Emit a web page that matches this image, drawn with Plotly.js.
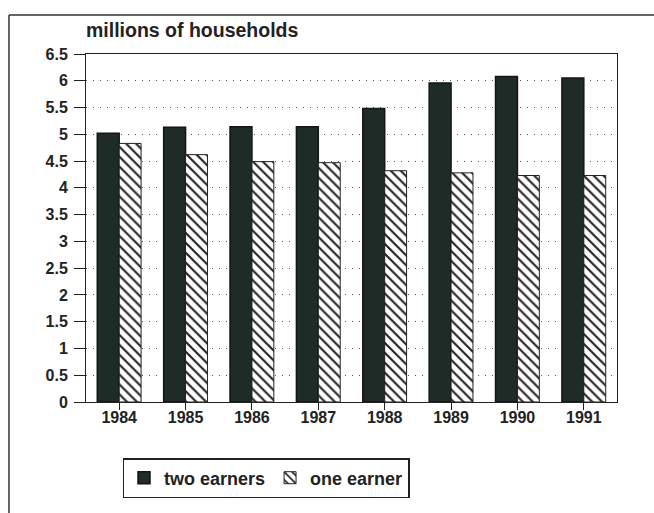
<!DOCTYPE html>
<html>
<head>
<meta charset="utf-8">
<script src="https://cdn.plot.ly/plotly-3.0.1.min.js"></script>
<style>html,body{margin:0;padding:0;background:#fff;}#chart{width:654px;height:513px;}</style>
</head>
<body>
<div id="chart"></div>
<script>
const years = ['1984','1985','1986','1987','1988','1989','1990','1991'];
const twoEarners = [5.02, 5.13, 5.14, 5.14, 5.48, 5.96, 6.08, 6.05];
const oneEarner = [4.83, 4.62, 4.49, 4.47, 4.32, 4.28, 4.23, 4.23];
const yTicks = [0, 0.5, 1, 1.5, 2, 2.5, 3, 3.5, 4, 4.5, 5, 5.5, 6, 6.5];
const yTickText = ['0','0.5','1','1.5','2','2.5','3','3.5','4','4.5','5','5.5','6','6.5'];
const seriesNames = ['two earners', 'one earner'];
const titleText = 'millions of households';

const W = 654, H = 513;
const L = 86, R = 37, T = 54, B = 111;
const pw = W - L - R, ph = H - T - B;
const px = x => (x - L) / pw;
const py = y => (H - B - y) / ph;

const fontFam = 'Liberation Sans, Arial, sans-serif';

const traces = [
  {
    type: 'bar', x: years, y: twoEarners, name: seriesNames[0],
    marker: { color: '#1e2b26', line: { color: '#151515', width: 1.5 } }
  },
  {
    type: 'bar', x: years, y: oneEarner, name: seriesNames[1],
    marker: {
      color: '#ffffff',
      line: { color: '#222', width: 1 },
      pattern: { shape: '\\', fgcolor: '#222', bgcolor: '#ffffff', size: 7, solidity: 0.3 }
    }
  }
];

const layout = {
  width: W, height: H,
  margin: { l: L, r: R, t: T, b: B, pad: 0 },
  paper_bgcolor: '#fff', plot_bgcolor: '#fff',
  barmode: 'group', bargap: 0.34, bargroupgap: 0,
  font: { family: fontFam, color: '#222' },
  title: {
    text: '<b>' + titleText + '</b>',
    font: { family: fontFam, size: 19.5, color: '#222' },
    xref: 'paper', x: 0, xanchor: 'left',
    yref: 'container', y: 1 - 30 / H, yanchor: 'middle'
  },
  xaxis: {
    type: 'category', range: [-0.5, 7.5],
    showline: true, linecolor: '#222', linewidth: 1, mirror: true,
    ticks: 'outside', ticklen: 7, tickcolor: '#222',
    ticklabelstandoff: -6,
    tickfont: { family: fontFam, size: 16, color: '#222', weight: 'bold' },
    showgrid: false, zeroline: false
  },
  yaxis: {
    range: [0, 6.5], tickvals: yTicks, ticktext: yTickText,
    showline: true, linecolor: '#222', linewidth: 1, mirror: true,
    ticks: 'outside', ticklen: 11, tickcolor: '#222',
    ticklabelstandoff: 3,
    tickfont: { family: fontFam, size: 16, color: '#222', weight: 'bold' },
    showgrid: true, gridcolor: '#555', griddash: '1px,6px', gridwidth: 1,
    zeroline: false
  },
  showlegend: true,
  legend: {
    orientation: 'h',
    x: px(266), xanchor: 'center',
    y: py(458), yanchor: 'top',
    bordercolor: '#222', borderwidth: 1.5,
    bgcolor: '#fff',
    font: { family: fontFam, size: 18, color: '#222', weight: 'bold' },
    itemwidth: 30, tracegroupgap: 0
  },
  shapes: [
    { type: 'line', xref: 'paper', yref: 'paper', x0: px(9), x1: px(9), y0: py(15), y1: py(513), line: { color: '#333', width: 1.5 } },
    { type: 'line', xref: 'paper', yref: 'paper', x0: px(9), x1: px(654), y0: py(15), y1: py(15), line: { color: '#333', width: 1.5 } }
  ]
};

Plotly.newPlot('chart', traces, layout, { displayModeBar: false, staticPlot: true });
</script>
</body>
</html>
